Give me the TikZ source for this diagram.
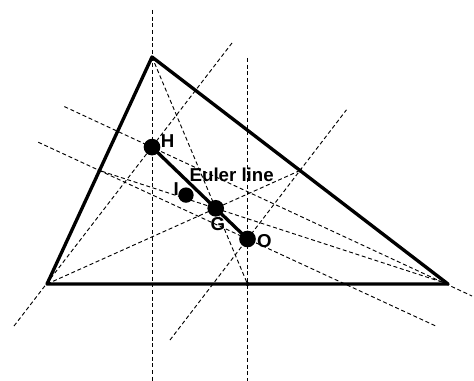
\documentclass[tikz,border=0pt]{standalone}
\usepackage{fontspec}
\setmainfont{Liberation Sans}
\usetikzlibrary{positioning,calc}
\tikzset{
  side/.style={line width=2.5pt, line join=round},
  euler/.style={line width=2.5pt},
  cevian/.style={dash pattern=on 3pt off 2pt, line width=0.7pt},
  centre/.style={circle, fill=black, inner sep=0pt, minimum size=12.5pt},
  midpt/.style={circle, fill=black, inner sep=0pt, minimum size=3pt},
  lbl/.style={font=\fontsize{14}{16}\selectfont\bfseries, inner sep=0pt}
}

\begin{document}
\begin{tikzpicture}[x=0.75pt, y=-0.75pt]
  \useasboundingbox (0,0) rectangle (474,381);
  % vertices
  \coordinate (A) at (47,284);
  \coordinate (B) at (152,57);
  \coordinate (C) at (448,284);
  % midpoints of the sides
  \node[midpt] (mab) at (99.5,170.5) {};
  \node[midpt] (mbc) at (300,170.5) {};
  \node[midpt] (mca) at (247.5,284) {};
  % free ends of the long lines
  \coordinate (hbtop) at (152,10);
  \coordinate (hbbot) at (152,381);
  \coordinate (hatop) at (232,43);
  \coordinate (habot) at (14,326);
  \coordinate (hctop) at (64.4,106.6);
  \coordinate (hcbot) at (472,296);
  \coordinate (pcatop) at (247.5,58);
  \coordinate (pcabot) at (247.5,381);
  \coordinate (pbctop) at (346.5,109.8);
  \coordinate (pbcbot) at (170,340);
  \coordinate (pabtop) at (38.2,142.2);
  \coordinate (pabbot) at (436.6,326.4);
  % altitudes
  \draw[cevian] (hbtop) -- (hbbot);
  \draw[cevian] (habot) -- (hatop);
  \draw[cevian] (hctop) -- (hcbot);
  % medians
  \draw[cevian] (A) -- (mbc);
  \draw[cevian] (B) -- (mca);
  \draw[cevian] (C) -- (mab);
  % perpendicular bisectors
  \draw[cevian] (pcatop) -- (pcabot);
  \draw[cevian] (pbcbot) -- (pbctop);
  \draw[cevian] (pabtop) -- (pabbot);
  % triangle
  \draw[side] (A) -- (B) -- (C) -- cycle;
  % centres
  \node[centre] (H) at (152,147.1) {};
  \node[centre] (G) at (215.7,208.3) {};
  \node[centre] (O) at (247.5,239) {};
  \node[centre, minimum size=11.5pt] (I) at (186,195.1) {};
  \draw[euler] (H.center) -- (O.center);
  % labels
  \node[lbl] (Hlbl) at (167.5,141) {H};
  \node[lbl] (Ilbl) at (176.3,188.7) {I};
  \node[lbl] (Glbl) at (218,224.3) {G};
  \node[lbl] (Olbl) at (264.3,240.8) {O};
  \node[lbl] (eulerlbl) at (231.7,175.3) {Euler line};
\end{tikzpicture}
\end{document}
